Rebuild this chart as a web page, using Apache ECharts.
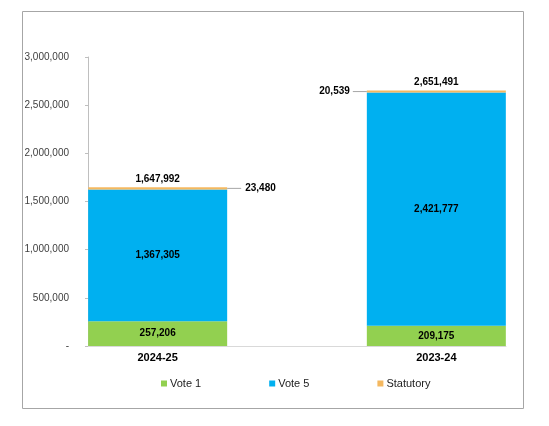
<!DOCTYPE html>
<html>
<head>
<meta charset="utf-8">
<script src="https://cdn.jsdelivr.net/npm/echarts@6/dist/echarts.min.js"></script>
<style>
  html, body { margin: 0; padding: 0; background: #fff; }
  #chart { width: 549px; height: 426px; }
</style>
</head>
<body>
<div id="chart"></div>
<script>
// values
var categories = ['2024-25', '2023-24'];
var vote1 = [257206, 209175];
var vote5 = [1367305, 2421777];
var statutory = [23480, 20539];
var totals = [1647992, 2651491];
var yTicks = [0, 500000, 1000000, 1500000, 2000000, 2500000, 3000000];

var fmt = function (v) { return v.toLocaleString('en-US'); };
// value first so the stack runs on the y dimension; category index second
var pts = function (arr) { return arr.map(function (v, i) { return [v, i]; }); };

var chart = echarts.init(document.getElementById('chart'));
var font = 'Liberation Sans, Arial, sans-serif';
var valueLabel = {
  show: true,
  position: 'inside',
  fontFamily: font,
  fontSize: 10,
  fontWeight: 'bold',
  color: '#000',
  formatter: function (p) { return fmt(p.value[0]); }
};
var leader = { width: 14, height: 1, backgroundColor: '#A6A6A6', verticalAlign: 'middle' };

chart.setOption({
  animation: false,
  graphic: [{
    type: 'rect',
    shape: { x: 22.5, y: 11.5, width: 501, height: 397 },
    style: { fill: 'none', stroke: '#A6A6A6', lineWidth: 1 },
    silent: true
  }],
  grid: { left: 88, right: 43, top: 57, bottom: 80 },
  legend: {
    data: ['Vote 1', 'Vote 5', 'Statutory'],
    left: 156,
    top: 373,
    itemWidth: 6,
    itemHeight: 6,
    itemGap: 68,
    icon: 'rect',
    textStyle: { fontFamily: font, fontSize: 11, color: '#222', padding: [0, 0, 0, -2] }
  },
  xAxis: {
    type: 'value',
    min: -0.25,
    max: 1.25,
    interval: 0.25,
    splitLine: { show: false },
    axisLine: { show: true, onZero: false, lineStyle: { color: '#D9D9D9' } },
    axisTick: { show: false },
    axisLabel: {
      fontFamily: font,
      fontSize: 11,
      fontWeight: 'bold',
      color: '#000',
      margin: 6,
      formatter: function (v) {
        var i = Math.round(v);
        return Math.abs(v - i) < 1e-6 && categories[i] ? categories[i] : '';
      }
    }
  },
  yAxis: {
    type: 'value',
    min: yTicks[0],
    max: yTicks[yTicks.length - 1],
    interval: yTicks[1] - yTicks[0],
    splitLine: { show: false },
    axisLine: { show: true, onZero: false, lineStyle: { color: '#BFBFBF' } },
    axisTick: { show: true, length: 3, lineStyle: { color: '#BFBFBF' } },
    axisLabel: {
      fontFamily: font,
      fontSize: 10,
      color: '#404040',
      margin: 19,
      formatter: function (v) { return v === 0 ? '-' : fmt(v); }
    }
  },
  series: [
    {
      name: 'Vote 1', type: 'bar', stack: 'all', barWidth: 139,
      encode: { x: 1, y: 0 },
      itemStyle: { color: '#92D050' },
      label: valueLabel,
      data: pts(vote1)
    },
    {
      name: 'Vote 5', type: 'bar', stack: 'all', barWidth: 139,
      encode: { x: 1, y: 0 },
      itemStyle: { color: '#00B0F0' },
      label: valueLabel,
      data: pts(vote5)
    },
    {
      name: 'Statutory', type: 'bar', stack: 'all', barWidth: 139,
      encode: { x: 1, y: 0 },
      itemStyle: { color: '#F4B860' },
      data: pts(statutory).map(function (d, i) {
        var right = i === 0;
        return {
          value: d,
          label: Object.assign({}, valueLabel, {
            position: right ? 'right' : 'left',
            distance: 0,
            formatter: function (p) {
              var t = fmt(p.value[0]);
              return right ? '{l|}{t|' + t + '}' : '{t|' + t + '}{l|}';
            },
            rich: {
              l: leader,
              t: {
                fontFamily: font, fontSize: 10, fontWeight: 'bold', color: '#000',
                verticalAlign: 'middle', padding: right ? [0, 0, 0, 4] : [0, 3, 0, 0]
              }
            }
          })
        };
      })
    },
    {
      // zero-height cap on the stack that carries the total label
      name: 'Total', type: 'bar', stack: 'all', barWidth: 139,
      encode: { x: 1, y: 0 },
      itemStyle: { color: 'rgba(0,0,0,0)' },
      label: Object.assign({}, valueLabel, {
        position: 'top',
        distance: 3,
        formatter: function (p) { return fmt(totals[p.dataIndex]); }
      }),
      data: totals.map(function (t, i) { return [0, i]; })
    }
  ]
});
</script>
</body>
</html>
